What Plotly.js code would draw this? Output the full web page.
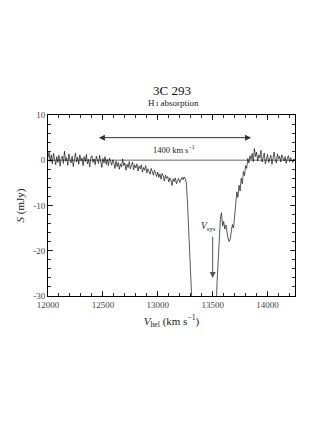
<!DOCTYPE html>
<html>
<head>
<meta charset="utf-8">
<script src="https://cdn.plot.ly/plotly-3.0.1.min.js"></script>
<style>html,body{margin:0;padding:0;background:#fff;}#chart{width:327px;height:423px;}</style>
</head>
<body>
<div id="chart"></div>
<script>
// Channel grid (km/s)
const CH0 = 12000;
const DV = 10;
// Flux density S (mJy), per channel
const fluxBaseLeft = [0.5, 1.8, -0.3, 1.2, -0.8, 1.5, 0.2, -1.0, 0.8, -0.5, 1.1, -1.3, 0.4, 0.9, -0.7, 2.0, -0.2, 0.6, -1.1, 1.4, 0.1, -0.6, 0.9, -1.4, 0.3, 1.6, -0.4, 0.7, -0.9, 1.2, -0.1, 0.5, -1.2, 0.8, -0.3, 1.3, -0.8, 0.2, -1.5, 0.6, 1.0, -0.5, 0.3, -1.0, 0.9, 0.1, -0.7, 1.1, -0.2, -1.6, 0.4, -0.6, 0.8, -0.9, 0.2, -1.2, 0.5, -0.3, -1.1, 0.1];
const fluxWing = [-0.6, -1.8, -0.2, -1.4, -0.5, -2.0, -0.8, -1.5, 0.3, -1.2, -0.6, -2.2, -0.9, -1.6, -0.3, -1.9, -1.1, -0.4, -2.1, -1.0, -1.7, -0.8, -2.4, -1.3, -1.9, -1.0, -2.6, -1.6, -2.2, -1.2, -2.8, -1.9, -2.5, -3.1, -1.8, -2.7, -3.3, -2.2, -2.9, -3.6];
const fluxShoulder = [-2.6, -3.8, -3.0, -4.2, -2.9, -3.5, -4.6, -3.3, -4.0, -3.6, -4.8, -3.9, -4.4, -5.6, -4.1, -4.7, -3.9, -5.2, -4.5, -4.0, -4.9, -4.2, -3.8, -4.3, -3.7, -4.1];
const fluxDrop = [-5, -9, -15, -22, -28, -34];
const fluxDeep = [-38, -42, -46, -49, -51, -53, -54, -55, -55, -54, -53, -52, -51, -50, -49, -48, -47, -46, -44, -41, -37];
const fluxRise = [-34, -27, -21, -16, -13, -11.6, -14.5, -13.5, -15.2, -14.3, -16.4, -17.2, -18, -17.4, -15.6, -14.2, -15.0, -12.0, -8.5, -7.0, -8.2, -5.5, -6.8, -4.0, -5.2, -2.5, -3.4, -1.2, -1.8, 0.4];
const fluxBaseRight = [-0.6, 1.0, 0.2, 1.5, -0.3, 2.6, 0.8, 1.8, -0.2, 1.2, 0.5, 2.2, -0.4, 0.9, 1.6, -0.8, 0.6, 1.3, -0.5, 0.2, 1.1, -0.9, 0.7, 1.8, 0.1, -0.6, 1.4, 0.3, 0.9, -0.4, 1.2, 0.5, -0.2, 0.8, -0.7, 0.4, 1.0, -0.3, 0.6, 0.1, -0.5, 0.3, 0.0];

// Text and annotation values
const titleText = "3C 293";
const subtitleText = "H<span style='font-size:7px'>&#8201;I</span> absorption";
const spanLeft = 12450, spanRight = 13850, spanY = 5;
const spanLabel = "1400 km s<sup>−1</sup>";
const vsys = 13500;
const xTicks = [12000, 12500, 13000, 13500, 14000];
const yTicks = [-30, -20, -10, 0, 10];

const flux = [].concat(fluxBaseLeft, fluxWing, fluxShoulder, fluxDrop, fluxDeep, fluxRise, fluxBaseRight);
const vel = flux.map((_, i) => CH0 + i * DV);

const serif = "Liberation Serif, DejaVu Serif, serif";

const trace = {
  x: vel, y: flux, type: 'scatter', mode: 'lines',
  line: {color: '#111', width: 0.7}, hoverinfo: 'skip'
};

const axisCommon = {
  showgrid: false, zeroline: false, showline: true, mirror: 'ticks',
  linecolor: '#000', linewidth: 1, ticks: 'inside', ticklen: 5, tickwidth: 0.8,
  tickcolor: '#000', tickfont: {family: serif, size: 9, color: '#444'}
};

const layout = {
  width: 327, height: 423,
  margin: {l: 48, r: 32, t: 115, b: 127},
  paper_bgcolor: '#fff', plot_bgcolor: '#fff',
  showlegend: false,
  xaxis: Object.assign({}, axisCommon, {
    range: [12000, 14250], tickvals: xTicks, ticktext: xTicks.map(String),
    minor: {dtick: 100, ticklen: 3, ticks: 'inside', tickcolor: '#000', tickwidth: 0.8},
    title: {text: "<i>V</i><sub>hel</sub> (km s<sup>−1</sup>)", font: {family: serif, size: 11, color: '#222'}, standoff: 8}
  }),
  yaxis: Object.assign({}, axisCommon, {
    range: [-30, 10], tickvals: yTicks, ticktext: yTicks.map(String),
    minor: {dtick: 2, ticklen: 3, ticks: 'inside', tickcolor: '#000', tickwidth: 0.8},
    title: {text: "<i>S</i> (mJy)", font: {family: serif, size: 11, color: '#222'}, standoff: 6}
  }),
  shapes: [
    {type: 'line', xref: 'paper', yref: 'y', x0: 0, x1: 1, y0: 0, y1: 0, line: {color: '#999', width: 1.5}, layer: 'below'}
  ],
  annotations: [
    {x: 0.5, y: 1.133, xref: 'paper', yref: 'paper', text: titleText, showarrow: false, yanchor: 'middle',
     font: {family: serif, size: 13, color: '#111'}},
    {x: 0.51, y: 1.068, xref: 'paper', yref: 'paper', text: subtitleText, showarrow: false, yanchor: 'middle',
     font: {family: serif, size: 9, color: '#222'}},
    {x: spanRight, y: spanY, ax: spanLeft, ay: spanY, xref: 'x', yref: 'y', axref: 'x', ayref: 'y',
     text: '', showarrow: true, arrowhead: 2, startarrowhead: 2, arrowside: 'end+start', arrowsize: 1.2, startarrowsize: 1.2,
     arrowwidth: 1, arrowcolor: '#333'},
    {x: (spanLeft + spanRight) / 2, y: spanY - 2.6, xref: 'x', yref: 'y', text: spanLabel, showarrow: false,
     font: {family: serif, size: 8.5, color: '#222'}},
    {x: vsys, y: -26, ax: vsys, ay: -16.6, xref: 'x', yref: 'y', axref: 'x', ayref: 'y',
     text: '', showarrow: true, arrowhead: 2, arrowsize: 1.2, arrowwidth: 1, arrowcolor: '#555'},
    {x: vsys - 40, y: -14.6, xref: 'x', yref: 'y', text: "<i>V</i><sub>sys</sub>", showarrow: false,
     font: {family: serif, size: 9.5, color: '#222'}}
  ]
};

Plotly.newPlot('chart', [trace], layout, {displayModeBar: false, staticPlot: true});
</script>
</body>
</html>
